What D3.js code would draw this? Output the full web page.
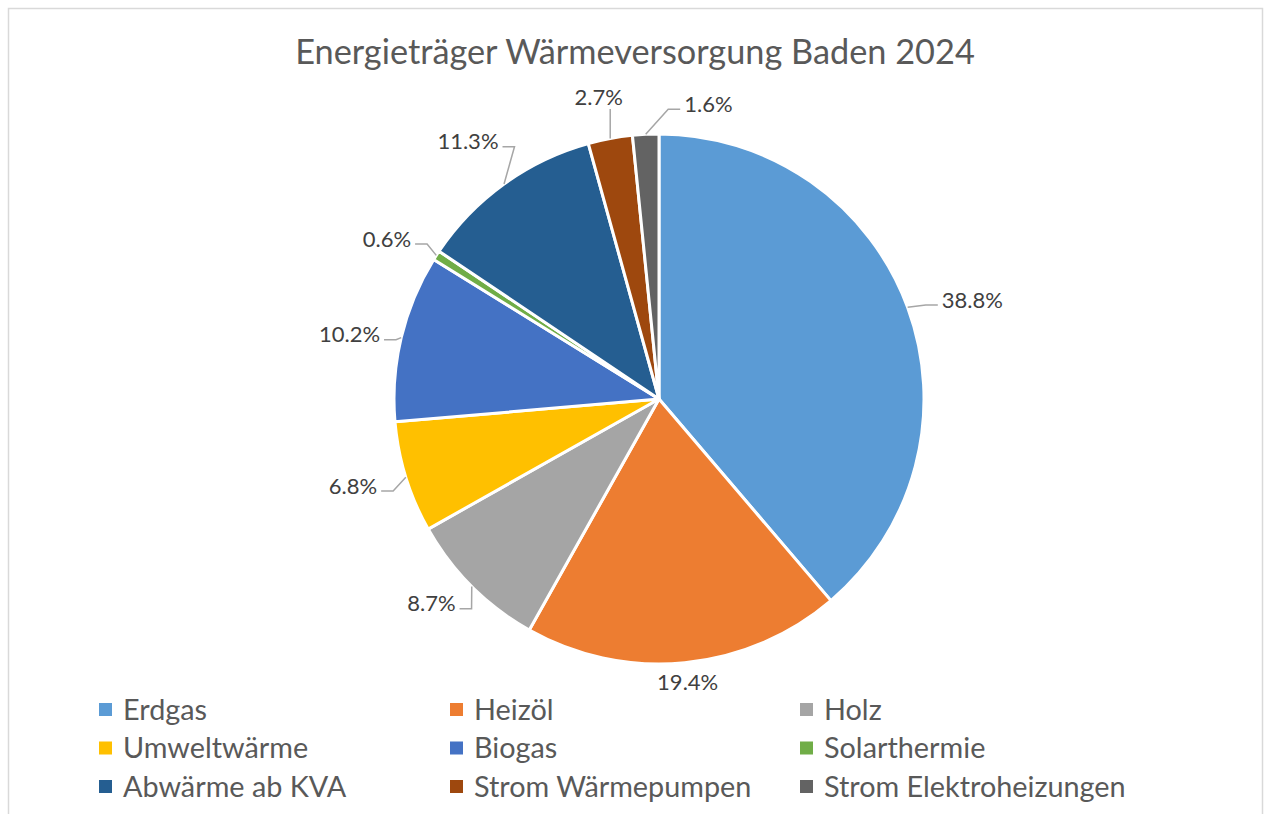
<!DOCTYPE html>
<html>
<head>
<meta charset="utf-8">
<script src="https://cdn.jsdelivr.net/npm/d3@7"></script>
<style>
  body { margin: 0; background: #fff; }
  svg { display: block; font-family: Lato, "Open Sans", sans-serif; }
</style>
</head>
<body>
<div id="chart"></div>
<script>
// data
const categories = ["Erdgas", "Heizöl", "Holz", "Umweltwärme", "Biogas", "Solarthermie",
    "Abwärme ab KVA", "Strom Wärmepumpen", "Strom Elektroheizungen"];
const shares = [38.8, 19.4, 8.7, 6.8, 10.2, 0.6, 11.3, 2.7, 1.6];
const colors = ["#5B9BD5", "#ED7D31", "#A5A5A5", "#FFC000", "#4472C4", "#70AD47",
    "#255E91", "#9E480E", "#636363"];
const title = "Energieträger Wärmeversorgung Baden 2024";

// small label nudges so labels sit like the original (pixels)
const labelNudge = [[6, 3], [0, -10], [5, -4], [0, 0], [8, 4], [0, 0], [12, -18], [-6, -12], [40, 0]];

const W = 1268, H = 814;
const cx = 659, cy = 399, r = 265;

const svg = d3.select("#chart").append("svg")
    .attr("width", W)
    .attr("height", H);

// chart border
svg.append("rect")
    .attr("x", 8.5).attr("y", 8.5)
    .attr("width", 1254).attr("height", 830)
    .attr("fill", "none")
    .attr("stroke", "#d9d9d9")
    .attr("stroke-width", 1.5);

svg.append("text")
    .attr("x", 635)
    .attr("y", 64)
    .attr("text-anchor", "middle")
    .attr("font-size", 34.3)
    .attr("fill", "#595959")
    .text(title);

const data = categories.map((c, i) => ({ name: c, value: shares[i], color: colors[i], i }));

const pie = d3.pie().value(d => d.value).sort(null);
const arcs = pie(data);
const arc = d3.arc().innerRadius(0).outerRadius(r);

const g = svg.append("g").attr("transform", `translate(${cx},${cy})`);

g.selectAll("path")
    .data(arcs)
    .enter()
    .append("path")
    .attr("d", arc)
    .attr("fill", d => d.data.color)
    .attr("stroke", "#fff")
    .attr("stroke-width", 3)
    .attr("stroke-linejoin", "round");

// labels
const rl = r + 30;
arcs.forEach(d => {
    const a = (d.startAngle + d.endAngle) / 2;
    const s = Math.sin(a), c = Math.cos(a);
    const nd = labelNudge[d.data.i];
    const x = rl * s + nd[0], y = -rl * c + nd[1];
    const anchor = d.data.i === 8 ? "start" : (s > 0.25 ? "start" : (s < -0.25 ? "end" : "middle"));

    g.append("text")
        .attr("x", x)
        .attr("y", y)
        .attr("dy", "0.35em")
        .attr("text-anchor", anchor)
        .attr("font-size", 22)
        .attr("fill", "#404040")
        .text(d3.format(".1f")(d.data.value) + "%");

    // leader line
    const p0 = [r * s, -r * c];
    let pts = null;
    if (anchor === "middle") {
        if (c > 0) pts = [p0, [p0[0], y + 12]];
    } else {
        const side = anchor === "start" ? -1 : 1;
        const L = [x + side * 4, y + 5];
        const elbow = [L[0] + side * 12, L[1]];
        pts = [p0, elbow, L];
    }
    if (pts) {
        g.append("path")
            .attr("d", d3.line()(pts))
            .attr("fill", "none")
            .attr("stroke", "#a6a6a6")
            .attr("stroke-width", 1.5);
    }
});

// legend
const colX = [99, 450, 800];
const rowY = [709.5, 748, 786.5];
const legend = svg.append("g");
data.forEach((d, i) => {
    const lx = colX[i % 3], ly = rowY[Math.floor(i / 3)];
    legend.append("rect")
        .attr("x", lx).attr("y", ly - 6.5)
        .attr("width", 13).attr("height", 13)
        .attr("fill", d.color);
    legend.append("text")
        .attr("x", lx + 24)
        .attr("y", ly)
        .attr("dy", "0.36em")
        .attr("font-size", 28.8)
        .attr("fill", "#595959")
        .text(d.name);
});
</script>
</body>
</html>
